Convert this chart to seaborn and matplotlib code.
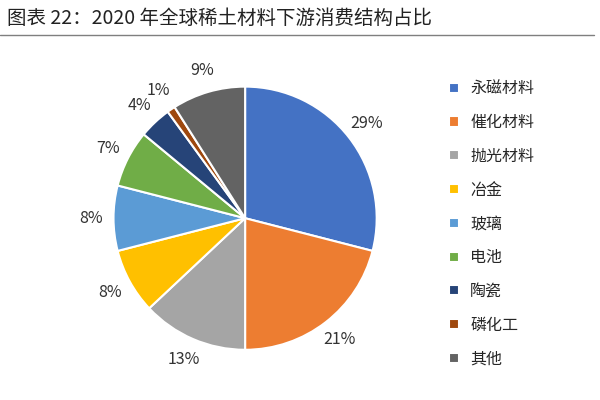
import matplotlib
matplotlib.use("Agg")
import matplotlib.pyplot as plt
import seaborn as sns

# data
categories = ["永磁材料", "催化材料", "抛光材料", "冶金", "玻璃", "电池", "陶瓷", "磷化工", "其他"]
shares = [29, 21, 13, 8, 8, 7, 4, 1, 9]
colors = ["#4472C4", "#ED7D31", "#A5A5A5", "#FFC000", "#5B9BD5",
          "#70AD47", "#264478", "#9E480E", "#636363"]

sns.set_theme(style="white", font="Noto Sans CJK SC")
palette = sns.color_palette(colors)

fig = plt.figure(figsize=(6, 4), dpi=100)
ax = fig.add_axes([0.187, 0.122, 0.443, 0.665])

wedges, texts = ax.pie(shares, colors=palette, startangle=90, counterclock=False,
                       labels=[f"{v}%" for v in shares], labeldistance=1.17,
                       wedgeprops=dict(edgecolor="white", linewidth=1.5),
                       textprops=dict(fontsize=11.5, color="#333333", clip_on=False))
for t in texts:
    t.set_horizontalalignment("center")
ax.set_xlim(-1.01, 1.01)
ax.set_ylim(-1.01, 1.01)
ax.set_aspect("equal")

leg = fig.legend(wedges, categories, loc="center left", bbox_to_anchor=(0.725, 0.44),
                 frameon=False, fontsize=11.5, handlelength=0.6, handleheight=0.6,
                 labelspacing=1.05, handletextpad=0.7)

fig.text(0.012, 0.955, "图表 22：2020 年全球稀土材料下游消费结构占比", fontsize=14,
         style="italic", va="center", ha="left", color="#222222")
fig.add_artist(plt.Line2D([0.0, 0.99], [0.912, 0.912], color="#7f7f7f", linewidth=1))

fig.savefig("out.png", dpi=100)
